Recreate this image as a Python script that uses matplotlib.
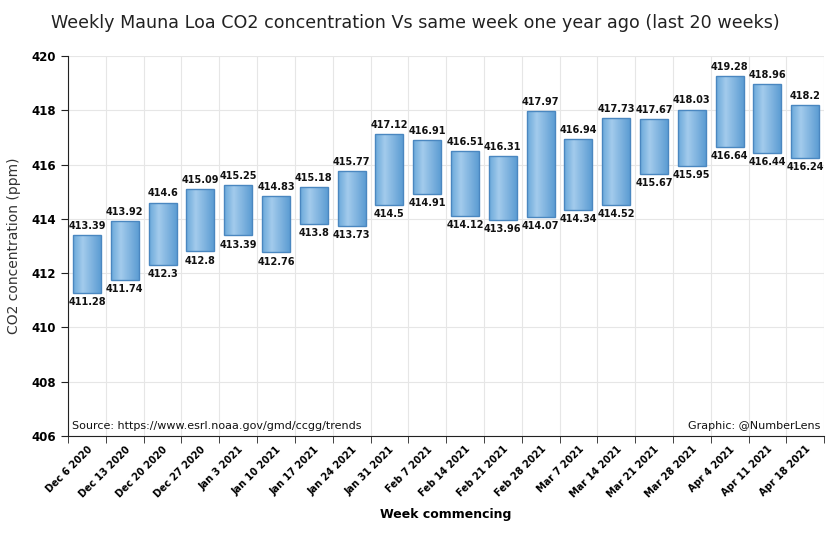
import matplotlib
matplotlib.use("Agg")
import matplotlib.pyplot as plt
import numpy as np
from matplotlib.colors import LinearSegmentedColormap

weeks = ["Dec 6 2020", "Dec 13 2020", "Dec 20 2020", "Dec 27 2020", "Jan 3 2021",
         "Jan 10 2021", "Jan 17 2021", "Jan 24 2021", "Jan 31 2021", "Feb 7 2021",
         "Feb 14 2021", "Feb 21 2021", "Feb 28 2021", "Mar 7 2021", "Mar 14 2021",
         "Mar 21 2021", "Mar 28 2021", "Apr 4 2021", "Apr 11 2021", "Apr 18 2021"]
year_ago = [411.28, 411.74, 412.3, 412.8, 413.39, 412.76, 413.8, 413.73, 414.5, 414.91,
            414.12, 413.96, 414.07, 414.34, 414.52, 415.67, 415.95, 416.64, 416.44, 416.24]
current = [413.39, 413.92, 414.6, 415.09, 415.25, 414.83, 415.18, 415.77, 417.12, 416.91,
           416.51, 416.31, 417.97, 416.94, 417.73, 417.67, 418.03, 419.28, 418.96, 418.2]
y_ticks = [406, 408, 410, 412, 414, 416, 418, 420]

fig = plt.figure(figsize=(8.3, 5.4), dpi=100)
ax = fig.add_axes([0.082, 0.193, 0.911, 0.703])

x = np.arange(len(weeks))
lo = np.array(year_ago)
hi = np.array(current)
bars = ax.bar(x, hi - lo, bottom=lo, width=0.74, facecolor="none",
              edgecolor="#4a87c0", linewidth=1.0, zorder=3)
for b in bars:
    b.set_joinstyle("miter")

cmap = LinearSegmentedColormap.from_list(
    "g", [(0, "#6aa9da"), (0.35, "#a3cbec"), (1, "#5d9dd3")])
grad = np.linspace(0, 1, 64).reshape(1, -1)
for b in bars:
    bx, by = b.get_x(), b.get_y()
    bw, bh = b.get_width(), b.get_height()
    im = ax.imshow(grad, cmap=cmap, aspect="auto",
                   extent=[bx, bx + bw, by, by + bh], zorder=2)
    im.set_clip_path(b)

lbl_font = dict(fontsize=7, fontweight="bold", color="#111111")
for i in range(len(weeks)):
    ax.annotate(f"{current[i]:g}", (x[i], hi[i]), xytext=(0, 3),
                textcoords="offset points", ha="center", va="bottom", **lbl_font)
    ax.annotate(f"{year_ago[i]:g}", (x[i], lo[i]), xytext=(0, -3),
                textcoords="offset points", ha="center", va="top", **lbl_font)

ax.set_xlim(-0.5, len(weeks) - 0.5)
ax.set_ylim(406, 420)
ax.set_yticks(y_ticks)
ax.set_yticklabels([str(v) for v in y_ticks], fontsize=8.5, fontweight="bold")
ax.set_xticks(x)
ax.set_xticklabels(weeks, rotation=45, ha="right", rotation_mode="anchor",
                   fontsize=7, fontweight="bold")
ax.tick_params(axis="x", length=0, pad=6)
ax.set_xticks(np.arange(-0.5, len(weeks)), minor=True)
ax.tick_params(axis="x", which="minor", length=5, color="#222222")
ax.tick_params(axis="y", length=5, color="#222222")

ax.grid(True, which="minor", axis="x", color="#e6e6e6", linewidth=0.8, zorder=0)
ax.grid(True, which="major", axis="y", color="#e6e6e6", linewidth=0.8, zorder=0)
ax.set_axisbelow(True)

for s in ["top", "right"]:
    ax.spines[s].set_visible(False)
ax.spines["left"].set_color("#222222")
ax.spines["bottom"].set_color("#222222")

ax.set_ylabel("CO2 concentration (ppm)", fontsize=10, color="#333333", labelpad=8)
ax.set_xlabel("Week commencing", fontsize=9, fontweight="bold", labelpad=6)

fig.text(0.5, 0.958, "Weekly Mauna Loa CO2 concentration Vs same week one year ago (last 20 weeks)",
         ha="center", va="center", fontsize=12.6, color="#222222")

ax.text(0.005, 0.012, "Source: https://www.esrl.noaa.gov/gmd/ccgg/trends",
        transform=ax.transAxes, ha="left", va="bottom", fontsize=8, color="#111111")
ax.text(0.995, 0.012, "Graphic: @NumberLens",
        transform=ax.transAxes, ha="right", va="bottom", fontsize=8, color="#111111")

fig.savefig("out.png", dpi=100)
